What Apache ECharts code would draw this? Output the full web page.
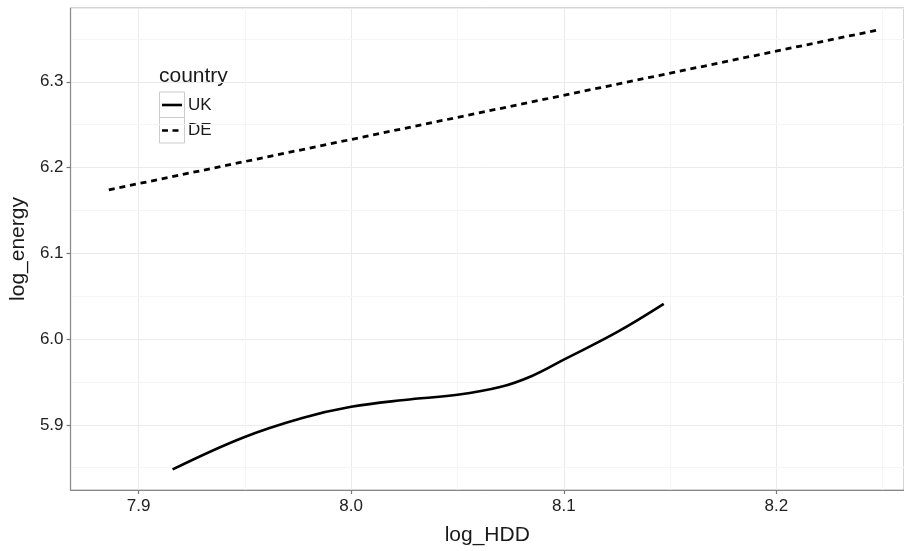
<!DOCTYPE html>
<html><head><meta charset="utf-8">
<script src="https://cdn.jsdelivr.net/npm/echarts@6/dist/echarts.min.js"></script>
<style>html,body{margin:0;padding:0;background:#fff}#c{width:904px;height:551px}</style>
</head><body><div id="c"></div>
<script>
const countries = ["UK", "DE"];
const ukHDD    = [7.916, 7.949, 7.977, 8.000, 8.025, 8.050, 8.070, 8.085, 8.100, 8.125, 8.147];
const ukEnergy = [5.848, 5.885, 5.908, 5.921, 5.929, 5.935, 5.944, 5.957, 5.976, 6.008, 6.041];
const deHDD    = [7.886, 8.247];
const deEnergy = [6.174, 6.360];
const xMinorGrid = [7.95, 8.05, 8.15, 8.25];
const yMinorGrid = [5.85, 5.95, 6.05, 6.15, 6.25, 6.35];

const FONT = '"Liberation Sans", Arial, Helvetica, sans-serif';
const chart = echarts.init(document.getElementById('c'), null, {renderer: 'canvas'});

const pair = (xs, ys) => xs.map((x, i) => [x, ys[i]]);

const legendGraphics = [];
legendGraphics.push({type: 'text', x: 159, y: 76, style: {text: 'country', font: '21px ' + FONT, fill: '#1a1a1a', verticalAlign: 'middle', align: 'left'}});
countries.forEach((name, i) => {
  const top = 92 + i * 25.5;
  legendGraphics.push({type: 'rect', shape: {x: 159.5, y: top, width: 25, height: 25.5}, style: {fill: '#fff', stroke: '#cccccc', lineWidth: 1}});
  legendGraphics.push({type: 'line', shape: {x1: 162, y1: top + 13, x2: 182, y2: top + 13},
    style: {stroke: '#000', lineWidth: 2.6, lineDash: i === 1 ? [6, 4.5] : null}});
  legendGraphics.push({type: 'text', x: 188, y: top + 13, style: {text: name, font: '17px ' + FONT, fill: '#1a1a1a', verticalAlign: 'middle', align: 'left'}});
});

const option = {
  animation: false,
  backgroundColor: '#fff',
  grid: {left: 68, top: 8, right: 0, bottom: 55, show: true, borderColor: '#aaaaaa', borderWidth: 1, containLabel: false},
  xAxis: {
    type: 'value', min: 7.868, max: 8.26, splitNumber: 4,
    name: 'log_HDD', nameLocation: 'middle', nameGap: 35,
    nameTextStyle: {fontFamily: FONT, fontSize: 21, color: '#1a1a1a'},
    axisLine: {show: true, lineStyle: {color: '#888', width: 1.2}},
    axisTick: {show: true, length: 4, lineStyle: {color: '#777', width: 1.2}},
    axisLabel: {fontFamily: FONT, fontSize: 17, color: '#222', margin: 8, showMinLabel: false, showMaxLabel: false,
      formatter: v => v.toFixed(1)},
    splitLine: {show: true, lineStyle: {color: '#ebebeb', width: 1}}
  },
  yAxis: {
    type: 'value', min: 5.824, max: 6.386, splitNumber: 5,
    name: 'log_energy', nameLocation: 'middle', nameGap: 41, nameRotate: 90,
    nameTextStyle: {fontFamily: FONT, fontSize: 21, color: '#1a1a1a'},
    axisLine: {show: true, lineStyle: {color: '#888', width: 1.2}},
    axisTick: {show: true, length: 4, lineStyle: {color: '#777', width: 1.2}},
    axisLabel: {fontFamily: FONT, fontSize: 17, color: '#222', margin: 7, showMinLabel: false, showMaxLabel: false,
      formatter: v => v.toFixed(1)},
    splitLine: {show: true, lineStyle: {color: '#ebebeb', width: 1}}
  },
  series: [
    {
      type: 'line', name: 'minor', data: [], z: 0, silent: true,
      markLine: {
        z: 0, silent: true, symbol: ['none', 'none'], label: {show: false},
        lineStyle: {color: '#f5f5f5', width: 1, type: 'solid'},
        emphasis: {disabled: true},
        data: xMinorGrid.map(v => ({xAxis: v})).concat(yMinorGrid.map(v => ({yAxis: v})))
      }
    },
    {
      type: 'line', name: countries[0], data: pair(ukHDD, ukEnergy), smooth: 0.4,
      showSymbol: false, symbol: 'none', z: 6,
      lineStyle: {color: '#000', width: 2.6, type: 'solid'}
    },
    {
      type: 'line', name: countries[1], data: pair(deHDD, deEnergy),
      showSymbol: false, symbol: 'none', z: 6,
      lineStyle: {color: '#000', width: 2.8, type: [6, 4.8]}
    }
  ],
  graphic: legendGraphics
};
chart.setOption(option);
</script>
</body></html>
